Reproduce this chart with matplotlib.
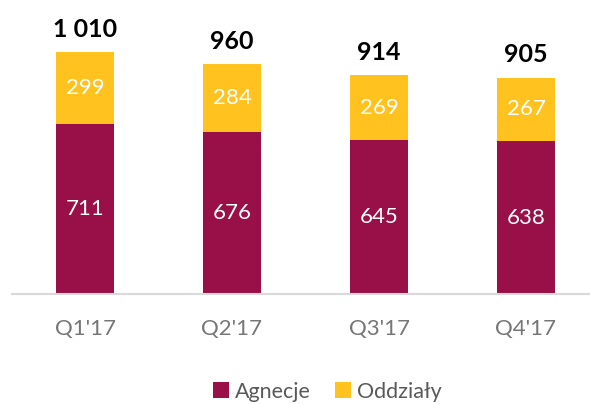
import numpy as np
import matplotlib.pyplot as plt

plt.rcParams['font.family'] = ['Lato', 'DejaVu Sans']

# data
quarters = ["Q1'17", "Q2'17", "Q3'17", "Q4'17"]
agencje = [711, 676, 645, 638]
oddzialy = [299, 284, 269, 267]
totals = ['1 010', '960', '914', '905']

MAROON = '#990F47'
YELLOW = '#FFC21E'

fig = plt.figure(figsize=(5.9, 4.05), dpi=100)
ax = fig.add_axes([0.0, 0.274, 1.0, 0.70])

x = np.arange(len(quarters))
w = 0.395
b1 = ax.bar(x, agencje, w, color=MAROON, label='Agnecje')
b2 = ax.bar(x, oddzialy, w, bottom=agencje, color=YELLOW, label='Oddziały')

for i in range(len(quarters)):
    ax.text(x[i], agencje[i] / 2, str(agencje[i]), ha='center', va='center',
            color='white', fontsize=16)
    ax.text(x[i], agencje[i] + oddzialy[i] / 2, str(oddzialy[i]), ha='center',
            va='center', color='white', fontsize=16)
    ax.annotate(totals[i], (x[i], agencje[i] + oddzialy[i]), xytext=(0, 8),
                textcoords='offset points', ha='center', va='bottom',
                fontsize=18, fontweight='bold', color='black')

# 147 px per category, first centre at 85 px
ax.set_xlim(-85 / 147, -85 / 147 + 590 / 147)
ax.set_ylim(0, 1185)
ax.set_xticks(x)
ax.set_xticklabels(quarters, fontsize=16, color='#767676')
ax.tick_params(axis='x', length=0, pad=18)
ax.set_yticks([])
for s in ['top', 'right', 'left']:
    ax.spines[s].set_visible(False)
ax.spines['bottom'].set_color('#D9D9D9')
ax.spines['bottom'].set_linewidth(1.5)
ax.spines['bottom'].set_bounds(-0.5, 4)

fig.legend(handles=[b1, b2], loc='lower center', bbox_to_anchor=(0.555, -0.04),
           ncol=2, frameon=False, fontsize=15.5, handlelength=0.75,
           handleheight=0.75, handletextpad=0.3, columnspacing=1.1,
           labelcolor='#595959')

fig.savefig('out.png', dpi=100)
